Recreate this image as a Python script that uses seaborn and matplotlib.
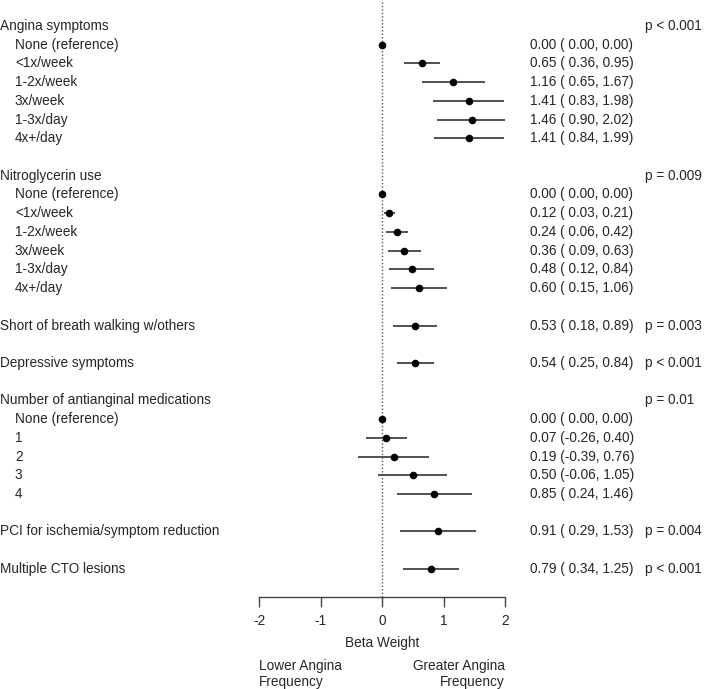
import matplotlib
matplotlib.use("Agg")
import matplotlib.pyplot as plt
import matplotlib.transforms as mtransforms
import seaborn as sns
import numpy as np
import pandas as pd

sns.set_theme(style="white")
plt.rcParams['font.family'] = ['Liberation Sans', 'DejaVu Sans']

# rows: label, estimate, lower, upper, p-value; None estimate = header/blank
labels = [
    "Angina symptoms", "None (reference)", "<1x/week", "1-2x/week", "3x/week", "1-3x/day", "4x+/day", "",
    "Nitroglycerin use", "None (reference)", "<1x/week", "1-2x/week", "3x/week", "1-3x/day", "4x+/day", "",
    "Short of breath walking w/others", "",
    "Depressive symptoms", "",
    "Number of antianginal medications", "None (reference)", "1", "2", "3", "4", "",
    "PCI for ischemia/symptom reduction", "",
    "Multiple CTO lesions",
]
indent = [
    0, 1, 1, 1, 1, 1, 1, 0,
    0, 1, 1, 1, 1, 1, 1, 0,
    0, 0,
    0, 0,
    0, 1, 1, 1, 1, 1, 0,
    0, 0,
    0,
]
est = [
    None, 0.00, 0.65, 1.16, 1.41, 1.46, 1.41, None,
    None, 0.00, 0.12, 0.24, 0.36, 0.48, 0.60, None,
    0.53, None,
    0.54, None,
    None, 0.00, 0.07, 0.19, 0.50, 0.85, None,
    0.91, None,
    0.79,
]
lower = [
    None, 0.00, 0.36, 0.65, 0.83, 0.90, 0.84, None,
    None, 0.00, 0.03, 0.06, 0.09, 0.12, 0.15, None,
    0.18, None,
    0.25, None,
    None, 0.00, -0.26, -0.39, -0.06, 0.24, None,
    0.29, None,
    0.34,
]
upper = [
    None, 0.00, 0.95, 1.67, 1.98, 2.02, 1.99, None,
    None, 0.00, 0.21, 0.42, 0.63, 0.84, 1.06, None,
    0.89, None,
    0.84, None,
    None, 0.00, 0.40, 0.76, 1.05, 1.46, None,
    1.53, None,
    1.25,
]
pvals = [
    "p < 0.001", "", "", "", "", "", "", "",
    "p = 0.009", "", "", "", "", "", "", "",
    "p = 0.003", "",
    "p < 0.001", "",
    "p = 0.01", "", "", "", "", "", "",
    "p = 0.004", "",
    "p < 0.001",
]
x_ticks = [-2, -1, 0, 1, 2]

FS = 9.8

n = len(labels)
df = pd.DataFrame({"row": np.arange(n), "label": labels, "est": est,
                   "lo": lower, "hi": upper, "p": pvals, "ind": indent})
dd = df.dropna(subset=["est"]).copy()
dd["est"] = dd["est"].astype(float)
dd["lo"] = dd["lo"].astype(float)
dd["hi"] = dd["hi"].astype(float)

W, H = 709, 689
fig = plt.figure(figsize=(W / 100, H / 100), dpi=100)
row_px = 18.72
top_px, bot_px = 0, 597
ax = fig.add_axes([259 / W, 1 - bot_px / H, (505 - 259) / W, (bot_px - top_px) / H])
y_top = -26 / row_px
y_bot = y_top + (bot_px - top_px) / row_px
ax.set_xlim(-2, 2)
ax.set_ylim(y_bot, y_top)

# reference dotted line
ax.axvline(0, color="#555555", lw=1.0, ls=(0, (1, 1.5)), zorder=1)

# CI lines
ax.hlines(dd["row"], dd["lo"], dd["hi"], color="#333333", lw=1.2, zorder=2)
sns.scatterplot(data=dd, x="est", y="row", ax=ax, color="black", s=30,
                edgecolor="black", linewidth=0, zorder=3, legend=False)

for s in ["top", "right", "left"]:
    ax.spines[s].set_visible(False)
ax.spines["bottom"].set_color("#444444")
ax.spines["bottom"].set_linewidth(1.0)
ax.set_yticks([])
ax.set_xticks(x_ticks)
ax.set_xticklabels([str(t) for t in x_ticks], fontsize=FS)
ax.tick_params(axis="x", direction="out", length=7, width=1.0, color="#444444", pad=5, bottom=True)
ax.set_xlabel("Beta Weight", fontsize=FS, labelpad=6)
ax.set_ylabel("")

trans = mtransforms.blended_transform_factory(fig.transFigure, ax.transData)
for _, r in df.iterrows():
    if r["label"]:
        x0 = (0 if r["ind"] == 0 else 15) / W
        ax.text(x0, r["row"], r["label"], transform=trans, fontsize=FS,
                va="center", ha="left", clip_on=False)
    if r["p"]:
        ax.text(645 / W, r["row"], r["p"], transform=trans, fontsize=FS,
                va="center", ha="left", clip_on=False)
for _, r in dd.iterrows():
    lo_s = f" {r['lo']:.2f}" if r['lo'] >= 0 else f"{r['lo']:.2f}"
    s = f"{r['est']:.2f} ({lo_s}, {r['hi']:.2f})"
    ax.text(530 / W, r["row"], s, transform=trans, fontsize=FS,
            va="center", ha="left", clip_on=False)

fig.text(259 / W, 1 - 674 / H, "Lower Angina\nFrequency", fontsize=FS, ha="left", va="center", linespacing=1.1)
fig.text(505 / W, 1 - 674 / H, "Greater Angina\nFrequency", fontsize=FS, ha="right", va="center",
         multialignment="right", linespacing=1.1)

fig.savefig("out.png", dpi=100)
